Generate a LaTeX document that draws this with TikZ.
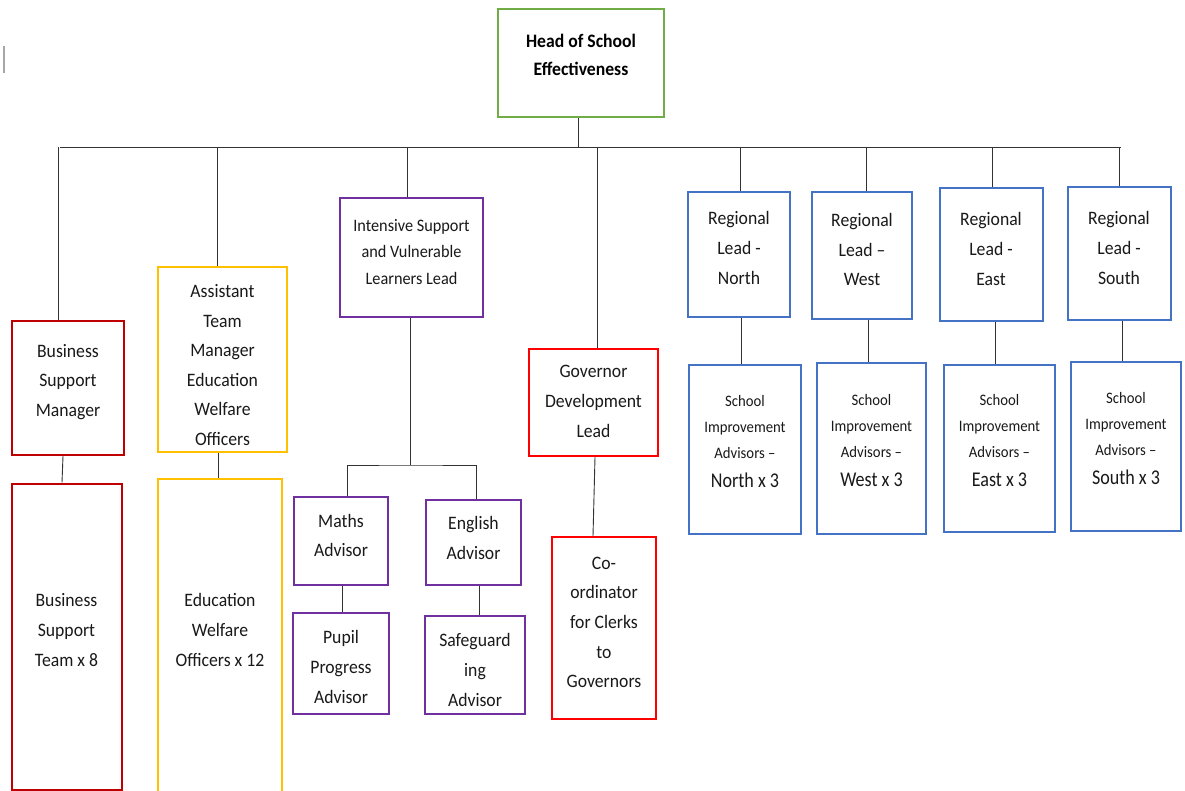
\documentclass[tikz,border=0pt]{standalone}
\usepackage{fontspec}
\setmainfont{Carlito}[FakeStretch=0.93]
\newfontfamily\smf{Carlito}[FakeStretch=0.92]
\newfontfamily\nf{Carlito}[FakeStretch=0.86]
\usetikzlibrary{calc}
\definecolor{cgreen}{HTML}{70AD47}
\definecolor{cdred}{HTML}{C00000}
\definecolor{cyel}{HTML}{FFC000}
\definecolor{cpur}{HTML}{7030A0}
\definecolor{cred}{HTML}{FF0000}
\definecolor{cblue}{HTML}{4472C4}
\begin{document}
\begin{tikzpicture}[x=1pt,y=-1pt,
  box/.style={draw=#1, line width=2pt, inner sep=0pt, fill=none},
  txt/.style={align=center, inner sep=0pt, text=black!90, font=\rmfamily\fontsize{19}{29.6}\selectfont},
  ttxt/.style={txt, font=\rmfamily\fontsize{17.5}{26.5}\selectfont},
  stxt/.style={txt, font=\smf\fontsize{16}{26}\selectfont},
  ln/.style={draw=black!80, line width=0.9pt}]
\useasboundingbox (0,0) rectangle (1185,791);
\clip (0,0) rectangle (1185,791);
\fill[white] (0,0) rectangle (1185,791);

% cursor mark
\draw[gray!70, line width=1.2pt] (4,46) -- (4,73);

% head
\node[box=cgreen, minimum width=166pt, minimum height=108pt] (head) at (581,63) {};
\node[txt, font=\rmfamily\bfseries\fontsize{19}{28}\selectfont, text=black] (headT) at (581,55) {Head of School\\Effectiveness};

% level 1
\node[box=cdred, minimum width=112pt, minimum height=134pt] (bsm) at (68,388) {};
\node[txt] (bsmT) at (68,382) {Business\\Support\\Manager};
\node[box=cyel, minimum width=129pt, minimum height=185pt] (atm) at (222.5,359.5) {};
\node[txt] (atmT) at (222.5,365) {Assistant\\Team\\Manager\\Education\\Welfare\\Officers};
\node[box=cpur, minimum width=143pt, minimum height=119pt] (isvl) at (411.5,257.5) {};
\node[ttxt] (isvlT) at (411.5,252) {Intensive Support\\and Vulnerable\\Learners Lead};
\node[box=cred, minimum width=129pt, minimum height=107pt] (gdl) at (593.5,402.5) {};
\node[txt] (gdlT) at (593.5,401.5) {Governor\\Development\\Lead};
\node[box=cblue, minimum width=102pt, minimum height=125pt] (rn) at (739,254.5) {};
\node[txt] (rnT) at (739,248) {Regional\\Lead -\\North};
\node[box=cblue, minimum width=100pt, minimum height=127pt] (rw) at (862,255.5) {};
\node[txt] (rwT) at (862,249.5) {Regional\\Lead –\\West};
\node[box=cblue, minimum width=103pt, minimum height=133pt] (re) at (991,255) {};
\node[txt] (reT) at (991,249) {Regional\\Lead -\\East};
\node[box=cblue, minimum width=103pt, minimum height=133pt] (rs) at (1119,254) {};
\node[txt] (rsT) at (1119,248) {Regional\\Lead -\\South};

% level 2
\node[box=cdred, minimum width=110pt, minimum height=306pt] (bst) at (66.5,636.5) {};
\node[txt] (bstT) at (66.5,630) {Business\\Support\\Team x 8};
\node[box=cyel, minimum width=124pt, minimum height=360pt] (ewo) at (220,659) {};
\node[txt] (ewoT) at (220,630) {Education\\Welfare\\Officers x 12};
\node[box=cpur, minimum width=94pt, minimum height=88pt] (maths) at (341,541) {};
\node[txt] (mathsT) at (341,535.5) {Maths\\Advisor};
\node[box=cpur, minimum width=95pt, minimum height=85pt] (eng) at (473.5,542.5) {};
\node[txt] (engT) at (473.5,538) {English\\Advisor};
\node[box=cpur, minimum width=96pt, minimum height=101pt] (pupil) at (341,663.5) {};
\node[txt] (pupilT) at (341,667) {Pupil\\Progress\\Advisor};
\node[box=cpur, minimum width=100pt, minimum height=98pt] (safe) at (475,665) {};
\node[txt] (safeT) at (475,670) {Safeguard\\ing\\Advisor};
\node[box=cred, minimum width=104pt, minimum height=182pt] (coord) at (604,628) {};
\node[txt] (coordT) at (604,622.5) {Co-\\ordinator\\for Clerks\\to\\Governors};
\node[box=cblue, minimum width=112pt, minimum height=169pt] (sn) at (745,449.5) {};
\node[stxt] (snT) at (745,442) {School\\Improvement\\Advisors –\\[3pt]{\nf\fontsize{21}{26}\selectfont North x 3}};
\node[box=cblue, minimum width=109pt, minimum height=171pt] (sw) at (871.5,448.5) {};
\node[stxt] (swT) at (871.5,441) {School\\Improvement\\Advisors –\\[3pt]{\nf\fontsize{21}{26}\selectfont West x 3}};
\node[box=cblue, minimum width=111pt, minimum height=167pt] (se) at (999.5,448) {};
\node[stxt] (seT) at (999.5,441) {School\\Improvement\\Advisors –\\[3pt]{\nf\fontsize{21}{26}\selectfont East x 3}};
\node[box=cblue, minimum width=110pt, minimum height=169pt] (ss) at (1126,446) {};
\node[stxt] (ssT) at (1126,439) {School\\Improvement\\Advisors –\\[3pt]{\nf\fontsize{21}{26}\selectfont South x 3}};

% connectors
\coordinate (busL) at (60,147);
\coordinate (busR) at (1121,147);
\draw[ln] (busL) -- (busR);
\draw[ln] ($(head.south)+(-3,0)$) -- ($(head.south |- busL)+(-3,0)$);
\draw[ln] ($(bsm.north)+(-10,0)$) -- ($(bsm.north |- busL)+(-10,0)$);
\draw[ln] ($(atm.north)+(-5.5,0)$) -- ($(atm.north |- busL)+(-5.5,0)$);
\draw[ln] ($(isvl.north)+(-4.5,0)$) -- ($(isvl.north |- busL)+(-4.5,0)$);
\draw[ln] ($(gdl.north)+(3.5,0)$) -- ($(gdl.north |- busL)+(3.5,0)$);
\draw[ln] ($(rn.north)+(1,0)$) -- ($(rn.north |- busL)+(1,0)$);
\draw[ln] ($(rw.north)+(4,0)$) -- ($(rw.north |- busL)+(4,0)$);
\draw[ln] ($(re.north)+(1,0)$) -- ($(re.north |- busL)+(1,0)$);
\draw[ln] (rs.north) -- (rs.north |- busR);

\draw[ln] ($(bsm.south)+(-5,0)$) -- ($(bsm.south |- bst.north)+(-6,0)$);
\draw[ln] ($(atm.south)+(-4.5,0)$) -- ($(atm.south |- ewo.north)+(-4.5,0)$);

\coordinate (isplit) at (410,465);
\draw[ln] ($(isvl.south)+(-1.5,0)$) -- (isplit);
\draw[ln] ($(maths.north)+(6,0)$) |- (isplit) -| ($(eng.north)+(2.5,0)$);
\draw[ln] ($(maths.south)+(1,0)$) -- ($(pupil.north)+(1,0)$);
\draw[ln] ($(eng.south)+(6,0)$) -- ($(eng.south |- safe.north)+(6,0)$);

\draw[ln] ($(gdl.south)+(1.5,0)$) -- ($(gdl.south |- coord.north)+(-0.5,0)$);

\draw[ln] ($(rn.south)+(2,0)$) -- ($(rn.south |- sn.north)+(2,0)$);
\draw[ln] ($(rw.south)+(6,0)$) -- ($(rw.south |- sw.north)+(6,0)$);
\draw[ln] ($(re.south)+(4,0)$) -- ($(re.south |- se.north)+(4,0)$);
\draw[ln] ($(rs.south)+(3,0)$) -- ($(rs.south |- ss.north)+(3,0)$);
\end{tikzpicture}
\end{document}
